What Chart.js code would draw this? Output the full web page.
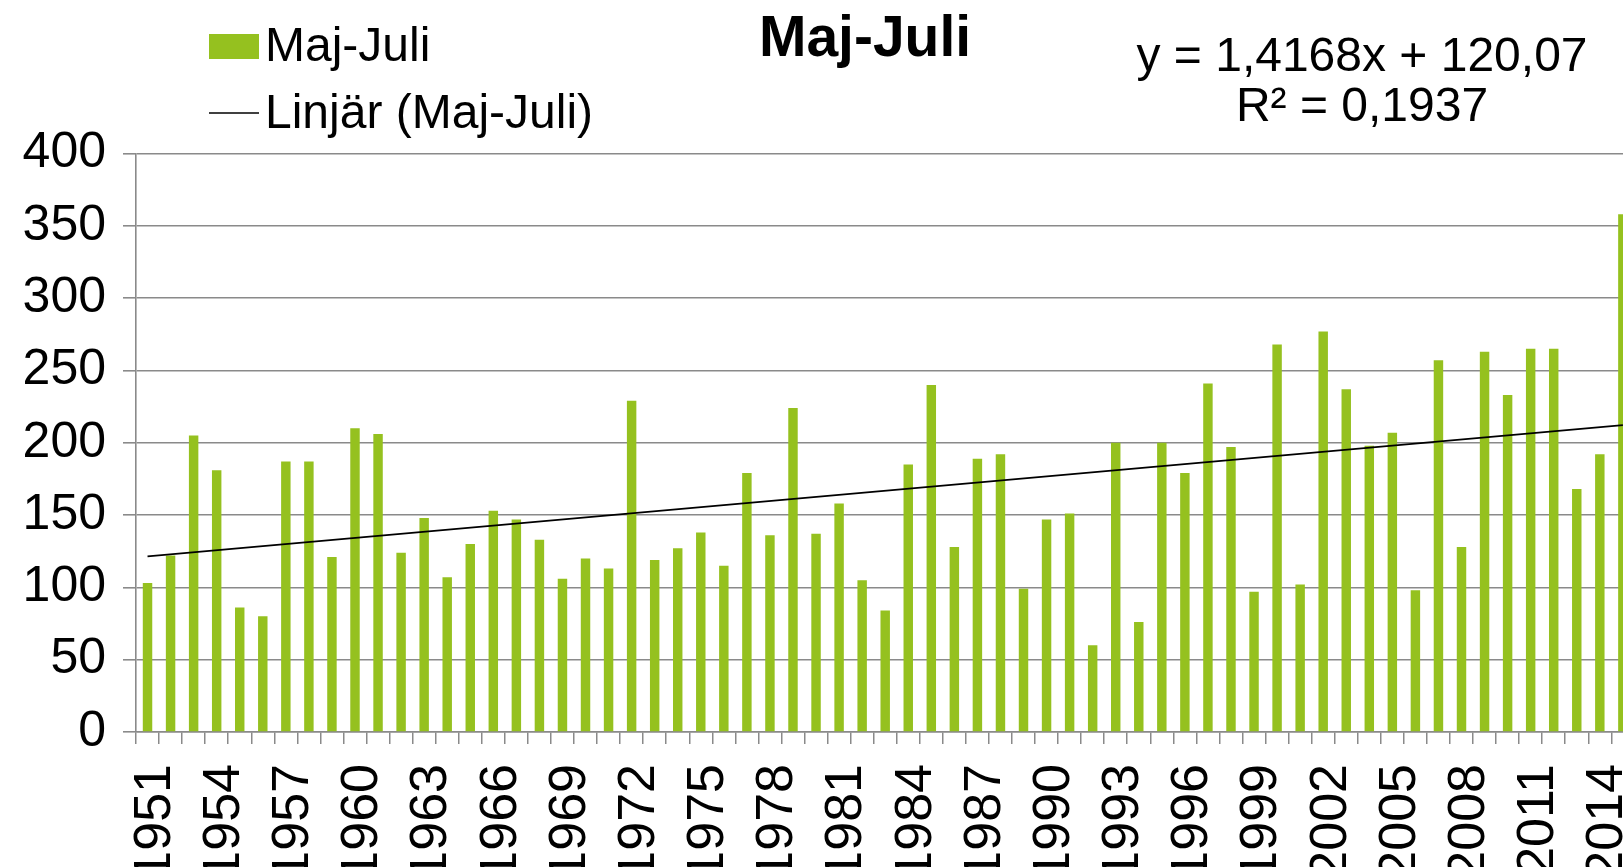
<!DOCTYPE html>
<html>
<head>
<meta charset="utf-8">
<script src="https://cdn.jsdelivr.net/npm/chart.js@4.4.0/dist/chart.umd.min.js"></script>
<style>
  html, body { margin: 0; padding: 0; background: #fff; overflow: hidden; }
  #wrap { width: 1623px; height: 867px; overflow: hidden; }
  canvas { display: block; }
</style>
</head>
<body>
<div id="wrap"><canvas id="chart" width="1640" height="867"></canvas></div>
<script>
// ---- Data ----
const years = [
  '1951', '1952', '1953', '1954', '1955', '1956', '1957', '1958', '1959', '1960',
  '1961', '1962', '1963', '1964', '1965', '1966', '1967', '1968', '1969', '1970',
  '1971', '1972', '1973', '1974', '1975', '1976', '1977', '1978', '1979', '1980',
  '1981', '1982', '1983', '1984', '1985', '1986', '1987', '1988', '1989', '1990',
  '1991', '1992', '1993', '1994', '1995', '1996', '1997', '1998', '1999', '2000',
  '2001', '2002', '2003', '2004', '2005', '2006', '2007', '2008', '2009', '2010',
  '2011', '2012', '2013', '2014', '2015',
];
const majJuli = [
  103, 122, 205, 181, 86, 80, 187, 187, 121, 210,
  206, 124, 148, 107, 130, 153, 147, 133, 106, 120,
  113, 229, 119, 127, 138, 115, 179, 136, 224, 137,
  158, 105, 84, 185, 240, 128, 189, 192, 99, 147,
  151, 60, 200, 76, 200, 179, 241, 197, 97, 268,
  102, 277, 237, 198, 207, 98, 257, 128, 263, 233,
  265, 265, 168, 192, 358,
];
// trend line value at first and last year
const trendEnds = [121.5, 212.2];
const yTicks = [0, 50, 100, 150, 200, 250, 300, 350, 400];
const legendLabels = ['Maj-Juli', 'Linjär (Maj-Juli)'];
const titleText = 'Maj-Juli';
const equationLines = ['y = 1,4168x + 120,07', 'R² = 0,1937'];

// ---- Styles ----
const BAR_GREEN = '#95c11f';
const GRID_GREY = '#8a8a8a';
const FONT = '"Liberation Sans", Arial, sans-serif';

const trendData = years.map((_, i) =>
  i === 0 ? trendEnds[0] : i === years.length - 1 ? trendEnds[1] : null);

// ---- Title, legend and equation text drawn on top ----
const overlay = {
  id: 'overlay',
  afterDraw(chart) {
    const ctx = chart.ctx;
    ctx.save();
    ctx.fillStyle = '#000';
    ctx.textBaseline = 'alphabetic';

    ctx.font = 'bold 57px ' + FONT;
    ctx.textAlign = 'center';
    ctx.fillText(titleText, 865, 56);

    ctx.font = '48px ' + FONT;
    ctx.textAlign = 'left';
    ctx.fillStyle = BAR_GREEN;
    ctx.fillRect(209, 34, 50, 25);
    ctx.fillStyle = '#000';
    ctx.fillText(legendLabels[0], 265, 61);
    ctx.strokeStyle = '#000';
    ctx.lineWidth = 1.5;
    ctx.beginPath();
    ctx.moveTo(209, 113);
    ctx.lineTo(259, 113);
    ctx.stroke();
    ctx.fillText(legendLabels[1], 265, 128);

    ctx.textAlign = 'center';
    ctx.fillText(equationLines[0], 1362, 71);
    ctx.fillText(equationLines[1], 1362, 121);
    ctx.restore();
  },
};

new Chart(document.getElementById('chart'), {
  type: 'bar',
  data: {
    labels: years,
    datasets: [
      {
        type: 'line',
        label: legendLabels[1],
        data: trendData,
        borderColor: '#000',
        borderWidth: 1.7,
        pointRadius: 0,
        spanGaps: true,
        fill: false,
        order: 0,
      },
      {
        label: legendLabels[0],
        data: majJuli,
        backgroundColor: BAR_GREEN,
        borderWidth: 0,
        barPercentage: 0.41,
        categoryPercentage: 1,
        order: 1,
      },
    ],
  },
  options: {
    responsive: false,
    animation: false,
    layout: { padding: { top: 153.5, right: 5.6, left: 0, bottom: 0 } },
    plugins: {
      legend: { display: false },
      title: { display: false },
      tooltip: { enabled: false },
    },
    scales: {
      x: {
        offset: true,
        afterFit: (s) => { s.height = 135; s.paddingLeft = 0; s.paddingRight = 0; },
        grid: {
          offset: true,
          drawOnChartArea: false,
          drawTicks: true,
          tickLength: 12,
          color: GRID_GREY,
          lineWidth: 1.5,
        },
        border: { color: GRID_GREY, width: 1.6 },
        ticks: {
          autoSkip: false,
          minRotation: 90,
          maxRotation: 90,
          padding: 20,
          labelOffset: 8,
          color: '#000',
          font: { family: FONT, size: 52 },
          callback: (v, i) => (i % 3 === 0 ? years[i] : ''),
        },
      },
      y: {
        min: 0,
        max: 400,
        afterFit: (s) => { s.width = 136; },
        afterBuildTicks: (s) => { s.ticks = yTicks.map((v) => ({ value: v })); },
        grid: {
          color: GRID_GREY,
          lineWidth: 1.6,
          tickLength: 13,
        },
        border: { color: GRID_GREY, width: 1.6 },
        ticks: {
          padding: 17,
          color: '#000',
          font: { family: FONT, size: 50 },
        },
      },
    },
  },
  plugins: [overlay],
});
</script>
</body>
</html>
